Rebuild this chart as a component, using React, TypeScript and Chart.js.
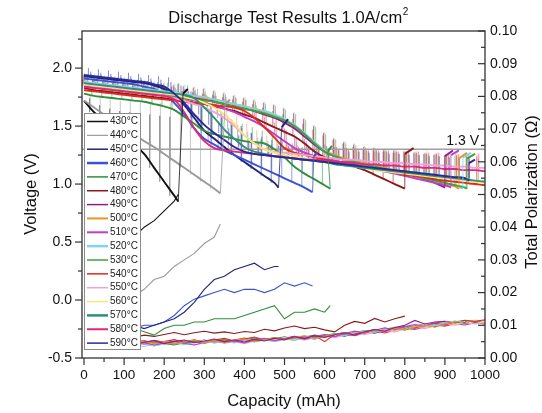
import React, { useEffect, useRef } from "react";
import { Chart, registerables } from "chart.js";
Chart.register(...registerables);

const FONT = '"Liberation Sans", Arial, Helvetica, sans-serif';

// Capacity grid (mAh)
const CAP = [0,25,50,75,100,125,150,175,200,225,250,275,300,325,350,375,400,425,450,475,500,525,550,575,600,625,650,675,700,725,750,775,800,825,850,875,900,925,950,975,1000];

const TEMPS = ["430°C","440°C","450°C","460°C","470°C","480°C","490°C","500°C","510°C","520°C","530°C","540°C","550°C","560°C","570°C","580°C","590°C"];
const COLORS = ["#111111","#9a9a9a","#23237a","#3a52d6","#2f8f3a","#8a1a1a","#8e1e8e","#f0921e","#c23ec8","#80d4f0","#3aa53a","#e02a1a","#f2a0d8","#f4e87a","#2e8f7c","#e0287a","#262a9a"];
const LEGEND_LW = [1.5,1.2,1.5,2.5,1.5,1.5,1.5,2,2,2.5,1.5,1.5,1.5,1.5,2.5,2,1.5];

// Loaded voltage (V) on CAP grid
const V_430 = [1.72,1.62,1.55,1.48,1.41,1.34,1.26,1.14,1.02,0.90];
const V_440 = [1.72,1.66,1.60,1.54,1.49,1.43,1.37,1.32,1.26,1.20,1.14,1.08,1.02,0.96];
const V_450 = [1.93,1.92,1.91,1.90,1.89,1.88,1.87,1.85,1.82,1.77,1.68,1.57,1.46,1.39,1.32,1.25,1.19,1.13,1.07,1.01];
const V_460 = [1.91,1.90,1.89,1.88,1.87,1.86,1.84,1.82,1.78,1.70,1.60,1.48,1.39,1.34,1.29,1.25,1.21,1.17,1.13,1.09,1.05,1.01,0.97];
const V_470 = [1.78,1.76,1.75,1.74,1.73,1.72,1.71,1.69,1.67,1.64,1.58,1.52,1.46,1.43,1.41,1.39,1.37,1.36,1.35,1.30,1.23,1.15,1.09,1.04,0.99];
const V_480 = [1.83,1.81,1.80,1.79,1.78,1.77,1.76,1.75,1.74,1.73,1.72,1.70,1.69,1.67,1.65,1.63,1.60,1.57,1.53,1.49,1.45,1.41,1.35,1.28,1.23,1.20,1.18,1.15,1.12,1.08,1.04,1.00];
const V_490 = [1.86,1.85,1.84,1.83,1.82,1.81,1.80,1.79,1.78,1.77,1.76,1.74,1.73,1.71,1.69,1.67,1.65,1.63,1.60,1.57,1.53,1.48,1.41,1.34,1.28,1.24,1.21,1.19,1.17,1.15,1.13,1.11,1.09,1.07,1.04,1.01];
const V_500 = [1.87,1.86,1.85,1.84,1.83,1.82,1.81,1.80,1.79,1.78,1.77,1.76,1.74,1.73,1.71,1.69,1.67,1.65,1.62,1.59,1.55,1.50,1.43,1.36,1.29,1.25,1.22,1.20,1.18,1.16,1.14,1.12,1.10,1.08,1.06,1.03,1.00,0.98];
const V_510 = [1.85,1.84,1.83,1.82,1.81,1.80,1.79,1.78,1.77,1.76,1.74,1.72,1.70,1.68,1.65,1.62,1.58,1.54,1.49,1.43,1.37,1.31,1.27,1.24,1.22,1.20,1.18,1.17,1.15,1.13,1.11,1.09,1.07,1.05,1.03,1.01,0.99];
const V_520 = [1.88,1.87,1.86,1.85,1.84,1.83,1.82,1.81,1.80,1.79,1.78,1.76,1.75,1.73,1.71,1.69,1.67,1.65,1.63,1.60,1.56,1.51,1.44,1.36,1.29,1.24,1.21,1.19,1.17,1.15,1.13,1.11,1.09,1.07,1.05,1.03,1.01,0.99];
const V_530 = [1.84,1.83,1.82,1.81,1.80,1.79,1.78,1.77,1.76,1.75,1.74,1.73,1.72,1.71,1.69,1.67,1.65,1.63,1.61,1.58,1.55,1.50,1.43,1.35,1.28,1.24,1.21,1.19,1.17,1.15,1.13,1.11,1.09,1.07,1.05,1.03,1.01,0.99,0.97];
const V_540 = [1.81,1.80,1.79,1.78,1.77,1.76,1.75,1.74,1.73,1.72,1.71,1.70,1.69,1.68,1.67,1.66,1.63,1.57,1.49,1.40,1.31,1.27,1.25,1.23,1.21,1.19,1.17,1.16,1.14,1.13,1.11,1.10,1.08,1.07,1.06,1.04,1.03,1.02,1.01,1.00];
const V_550 = [1.85,1.84,1.83,1.82,1.81,1.80,1.79,1.78,1.76,1.74,1.72,1.69,1.66,1.62,1.57,1.50,1.42,1.35,1.30,1.28,1.27,1.26,1.25,1.24,1.23,1.22,1.21,1.21,1.20,1.19,1.19,1.18,1.18,1.17,1.17,1.16,1.16,1.15,1.15,1.14];
const V_560 = [1.86,1.85,1.84,1.83,1.82,1.81,1.80,1.79,1.78,1.77,1.75,1.73,1.70,1.66,1.60,1.52,1.42,1.35,1.30,1.27,1.25,1.24,1.22,1.21,1.19,1.18,1.16,1.15,1.14,1.12,1.11,1.10,1.09,1.08,1.07,1.06,1.05,1.04,1.03,1.02];
const V_570 = [1.87,1.86,1.85,1.84,1.83,1.82,1.81,1.80,1.79,1.78,1.77,1.74,1.66,1.57,1.47,1.39,1.32,1.28,1.26,1.24,1.23,1.22,1.21,1.20,1.19,1.17,1.16,1.15,1.14,1.13,1.12,1.11,1.10,1.09,1.08,1.07,1.06,1.05,1.04,1.03];
const V_580 = [1.84,1.83,1.82,1.81,1.80,1.79,1.78,1.77,1.76,1.73,1.62,1.48,1.37,1.31,1.29,1.28,1.27,1.26,1.25,1.24,1.23,1.22,1.21,1.21,1.20,1.19,1.19,1.18,1.17,1.17,1.16,1.16,1.15,1.15,1.14,1.14,1.13,1.13,1.12,1.12];
const V_590 = [1.94,1.93,1.92,1.91,1.90,1.89,1.88,1.86,1.84,1.78,1.70,1.60,1.51,1.44,1.38,1.32,1.28,1.26,1.25,1.24,1.23,1.22,1.21,1.20,1.19,1.18,1.17,1.16,1.15,1.14,1.13,1.12,1.11,1.10,1.09,1.08,1.07,1.06,1.05];

// Pulse (interruption) top voltage on the same grid
const T_430 = [1.82,1.74,1.68,1.65,1.63,1.62,1.61,1.60,1.59,1.58];
const T_440 = [1.80,1.76,1.74,1.73,1.72,1.72,1.71,1.71,1.70,1.70,1.69,1.69,1.68,1.67];
const T_450 = [1.98,1.97,1.96,1.95,1.94,1.93,1.92,1.91,1.90,1.88,1.85,1.80,1.74,1.68,1.62,1.56,1.50,1.44,1.39,1.34];
const T_460 = [1.96,1.95,1.94,1.93,1.92,1.91,1.90,1.89,1.87,1.84,1.80,1.74,1.68,1.62,1.57,1.52,1.48,1.44,1.41,1.38,1.35,1.33,1.31];
const T_470 = [1.86,1.85,1.84,1.83,1.82,1.81,1.80,1.79,1.78,1.76,1.73,1.69,1.65,1.61,1.58,1.55,1.52,1.49,1.46,1.42,1.38,1.35,1.32,1.29,1.27];
const T_480 = [1.90,1.89,1.88,1.87,1.86,1.85,1.84,1.83,1.82,1.81,1.80,1.79,1.78,1.77,1.75,1.73,1.71,1.69,1.66,1.63,1.60,1.56,1.52,1.47,1.42,1.38,1.35,1.32,1.30,1.29,1.28,1.27];
const T_490 = [1.94,1.93,1.92,1.91,1.90,1.89,1.88,1.87,1.86,1.85,1.84,1.83,1.82,1.80,1.78,1.76,1.74,1.72,1.70,1.68,1.65,1.61,1.56,1.50,1.44,1.39,1.36,1.34,1.32,1.31,1.30,1.29,1.28,1.27,1.26,1.25];
const T_500 = [1.95,1.94,1.93,1.92,1.91,1.90,1.89,1.88,1.87,1.86,1.85,1.84,1.83,1.81,1.79,1.77,1.75,1.73,1.71,1.69,1.66,1.62,1.57,1.51,1.45,1.40,1.37,1.35,1.33,1.32,1.31,1.30,1.29,1.28,1.27,1.26,1.25,1.24];
const T_510 = [1.93,1.92,1.91,1.90,1.89,1.88,1.87,1.86,1.85,1.84,1.82,1.80,1.78,1.76,1.73,1.70,1.66,1.62,1.58,1.53,1.48,1.43,1.39,1.36,1.34,1.32,1.31,1.30,1.29,1.28,1.28,1.27,1.27,1.26,1.26,1.25,1.25];
const T_520 = [1.96,1.95,1.94,1.93,1.92,1.91,1.90,1.89,1.88,1.87,1.86,1.84,1.83,1.81,1.79,1.77,1.75,1.73,1.71,1.68,1.65,1.61,1.56,1.50,1.44,1.39,1.36,1.34,1.32,1.31,1.30,1.29,1.28,1.28,1.27,1.27,1.26,1.26];
const T_530 = [1.92,1.91,1.90,1.89,1.88,1.87,1.86,1.85,1.84,1.83,1.82,1.81,1.80,1.79,1.77,1.75,1.73,1.71,1.69,1.67,1.64,1.60,1.55,1.49,1.43,1.38,1.35,1.33,1.31,1.30,1.29,1.28,1.28,1.27,1.27,1.26,1.26,1.25,1.25];
const T_540 = [1.89,1.88,1.87,1.86,1.85,1.84,1.83,1.82,1.81,1.80,1.79,1.78,1.77,1.76,1.75,1.74,1.72,1.68,1.62,1.55,1.47,1.41,1.37,1.35,1.33,1.32,1.31,1.30,1.29,1.29,1.28,1.28,1.27,1.27,1.26,1.26,1.25,1.25,1.24,1.24];
const T_550 = [1.93,1.92,1.91,1.90,1.89,1.88,1.87,1.86,1.84,1.82,1.80,1.77,1.74,1.70,1.65,1.59,1.52,1.46,1.42,1.39,1.37,1.36,1.35,1.34,1.33,1.32,1.32,1.31,1.31,1.30,1.30,1.30,1.29,1.29,1.29,1.28,1.28,1.28,1.27,1.27];
const T_560 = [1.94,1.93,1.92,1.91,1.90,1.89,1.88,1.87,1.86,1.85,1.83,1.81,1.78,1.74,1.69,1.62,1.54,1.47,1.42,1.38,1.36,1.34,1.33,1.32,1.31,1.30,1.29,1.29,1.28,1.28,1.27,1.27,1.26,1.26,1.25,1.25,1.24,1.24,1.23,1.23];
const T_570 = [1.95,1.94,1.93,1.92,1.91,1.90,1.89,1.88,1.87,1.86,1.85,1.82,1.76,1.68,1.59,1.51,1.45,1.40,1.37,1.35,1.34,1.33,1.32,1.31,1.30,1.29,1.29,1.28,1.28,1.27,1.27,1.26,1.26,1.25,1.25,1.24,1.24,1.23,1.23,1.22];
const T_580 = [1.92,1.91,1.90,1.89,1.88,1.87,1.86,1.85,1.84,1.81,1.72,1.59,1.48,1.42,1.39,1.37,1.36,1.35,1.34,1.33,1.33,1.32,1.32,1.31,1.31,1.30,1.30,1.30,1.29,1.29,1.29,1.28,1.28,1.28,1.27,1.27,1.27,1.26,1.26,1.26];
const T_590 = [2.00,1.99,1.98,1.97,1.96,1.95,1.94,1.93,1.92,1.87,1.80,1.71,1.62,1.54,1.48,1.42,1.38,1.36,1.34,1.33,1.32,1.31,1.30,1.30,1.29,1.29,1.28,1.28,1.27,1.27,1.26,1.26,1.25,1.25,1.24,1.24,1.23,1.23,1.22];

// Total polarization (ohm) on grid, last value at end capacity
const P_430 = [0.030,0.031,0.032,0.033,0.035,0.037,0.040,0.042,0.045,0.048,0.050];
const P_440 = [0.012,0.013,0.014,0.015,0.017,0.019,0.021,0.024,0.025,0.028,0.030,0.032,0.035,0.037,0.041];
const P_450 = [0.010,0.010,0.009,0.010,0.009,0.010,0.009,0.010,0.011,0.012,0.014,0.017,0.021,0.024,0.025,0.027,0.028,0.029,0.027,0.028,0.028];
const P_460 = [0.010,0.009,0.010,0.009,0.010,0.009,0.010,0.010,0.011,0.013,0.016,0.018,0.019,0.020,0.021,0.020,0.021,0.021,0.020,0.021,0.023,0.022,0.023,0.022];
const P_470 = [0.009,0.009,0.010,0.009,0.010,0.009,0.008,0.007,0.009,0.010,0.010,0.011,0.011,0.012,0.012,0.012,0.013,0.014,0.015,0.016,0.012,0.014,0.014,0.015,0.014,0.016];
const P_480 = [0.0062,0.0058,0.0066,0.0060,0.0068,0.0063,0.0070,0.0066,0.0072,0.0078,0.0071,0.0077,0.0082,0.0076,0.0080,0.0075,0.0081,0.0078,0.0088,0.0083,0.0092,0.0098,0.0090,0.0094,0.0086,0.0080,0.0100,0.0112,0.0106,0.0121,0.0110,0.0120,0.0128];
const P_490 = [0.0050,0.0043,0.0051,0.0045,0.0049,0.0042,0.0048,0.0053,0.0044,0.0050,0.0055,0.0047,0.0052,0.0058,0.0050,0.0055,0.0049,0.0057,0.0052,0.0060,0.0056,0.0065,0.0060,0.0068,0.0063,0.0071,0.0077,0.0070,0.0080,0.0087,0.0082,0.0093,0.0100,0.0115,0.0104,0.0110,0.0112];
const P_500 = [0.0045,0.0050,0.0042,0.0048,0.0040,0.0046,0.0052,0.0044,0.0050,0.0043,0.0049,0.0055,0.0047,0.0053,0.0046,0.0054,0.0058,0.0050,0.0056,0.0062,0.0055,0.0063,0.0068,0.0060,0.0066,0.0072,0.0078,0.0070,0.0079,0.0085,0.0080,0.0090,0.0086,0.0095,0.0100,0.0094,0.0104,0.0110,0.0112];
const P_510 = [0.0040,0.0046,0.0038,0.0044,0.0050,0.0041,0.0047,0.0040,0.0046,0.0052,0.0045,0.0040,0.0048,0.0054,0.0047,0.0052,0.0046,0.0055,0.0060,0.0053,0.0058,0.0064,0.0057,0.0066,0.0072,0.0065,0.0075,0.0082,0.0076,0.0085,0.0092,0.0086,0.0096,0.0102,0.0098,0.0107,0.0112,0.0110];
const P_520 = [0.0036,0.0042,0.0035,0.0040,0.0046,0.0038,0.0044,0.0037,0.0043,0.0048,0.0041,0.0047,0.0052,0.0045,0.0051,0.0046,0.0053,0.0049,0.0055,0.0051,0.0058,0.0054,0.0062,0.0058,0.0066,0.0073,0.0068,0.0077,0.0083,0.0078,0.0087,0.0093,0.0088,0.0097,0.0103,0.0099,0.0108,0.0113,0.0110];
const P_530 = [0.0048,0.0042,0.0050,0.0045,0.0039,0.0047,0.0042,0.0049,0.0044,0.0040,0.0047,0.0053,0.0046,0.0051,0.0056,0.0049,0.0055,0.0050,0.0057,0.0062,0.0056,0.0061,0.0067,0.0062,0.0069,0.0075,0.0070,0.0078,0.0084,0.0079,0.0088,0.0094,0.0090,0.0098,0.0104,0.0100,0.0107,0.0112,0.0108,0.0114];
const P_540 = [0.0050,0.0044,0.0052,0.0046,0.0041,0.0048,0.0053,0.0045,0.0050,0.0056,0.0048,0.0053,0.0047,0.0055,0.0060,0.0052,0.0058,0.0064,0.0056,0.0062,0.0058,0.0066,0.0061,0.0069,0.0050,0.0072,0.0078,0.0073,0.0081,0.0087,0.0082,0.0091,0.0097,0.0092,0.0101,0.0106,0.0102,0.0110,0.0115,0.0112,0.0117];
const P_550 = [0.0038,0.0044,0.0036,0.0042,0.0048,0.0040,0.0035,0.0043,0.0049,0.0041,0.0047,0.0040,0.0046,0.0052,0.0045,0.0050,0.0044,0.0052,0.0057,0.0050,0.0056,0.0062,0.0055,0.0061,0.0067,0.0062,0.0070,0.0076,0.0071,0.0079,0.0085,0.0080,0.0089,0.0095,0.0090,0.0099,0.0104,0.0100,0.0108,0.0104,0.0109];
const P_560 = [0.0046,0.0040,0.0047,0.0053,0.0045,0.0051,0.0044,0.0050,0.0043,0.0049,0.0055,0.0048,0.0054,0.0049,0.0056,0.0051,0.0058,0.0053,0.0060,0.0055,0.0062,0.0057,0.0065,0.0060,0.0068,0.0074,0.0069,0.0077,0.0073,0.0082,0.0088,0.0083,0.0092,0.0098,0.0094,0.0103,0.0108,0.0103,0.0111,0.0116,0.0112];
const P_570 = [0.0042,0.0048,0.0041,0.0036,0.0044,0.0050,0.0043,0.0038,0.0045,0.0051,0.0044,0.0050,0.0045,0.0051,0.0057,0.0050,0.0055,0.0061,0.0054,0.0059,0.0065,0.0058,0.0064,0.0070,0.0064,0.0071,0.0077,0.0072,0.0080,0.0086,0.0081,0.0089,0.0095,0.0091,0.0099,0.0105,0.0100,0.0109,0.0114,0.0109,0.0115];
const P_580 = [0.0055,0.0049,0.0056,0.0050,0.0045,0.0052,0.0047,0.0054,0.0048,0.0043,0.0050,0.0056,0.0049,0.0054,0.0048,0.0055,0.0061,0.0054,0.0059,0.0053,0.0060,0.0066,0.0059,0.0065,0.0071,0.0065,0.0073,0.0068,0.0076,0.0082,0.0077,0.0085,0.0091,0.0087,0.0095,0.0101,0.0097,0.0105,0.0101,0.0108,0.0104];
const P_590 = [0.0044,0.0039,0.0046,0.0041,0.0047,0.0040,0.0046,0.0052,0.0044,0.0050,0.0043,0.0049,0.0055,0.0048,0.0054,0.0049,0.0056,0.0051,0.0058,0.0053,0.0060,0.0055,0.0063,0.0058,0.0066,0.0072,0.0067,0.0075,0.0081,0.0076,0.0085,0.0091,0.0086,0.0095,0.0101,0.0096,0.0105,0.0110,0.0106,0.0108];

// End of discharge and recovery after cut-off
const END_CAP = [235,340,485,570,614,800,900,935,915,945,955,1000,1000,1000,1000,1000,960];
const END_V = [0.85,0.92,0.97,0.93,0.96,0.96,0.97,0.96,0.97,0.96,0.96,0.99,1.14,1.01,1.02,1.11,1.03];
const REC_CAP1 = [247,352,493,573,608,800,900,935,915,945,955,null,null,null,null,null,960];
const REC_V1 = [1.78,1.69,1.49,1.24,1.28,1.26,1.24,1.22,1.25,1.23,1.22,null,null,null,null,null,1.18];
const REC_CAP2 = [259,364,509,582,618,822,920,955,935,965,975,null,null,null,null,null,975];
const REC_V2 = [1.82,1.73,1.56,1.27,1.33,1.31,1.29,1.27,1.29,1.27,1.26,null,null,null,null,null,1.21];

const REF_V = 1.3;
const X_TICKS = [0,100,200,300,400,500,600,700,800,900,1000];
const X_MINOR = [50,150,250,350,450,550,650,750,850,950];
const Y_TICKS = [-0.5,0,0.5,1.0,1.5,2.0];
const Y_MINOR = [-0.25,0.25,0.75,1.25,1.75,2.25];
const P_TICKS = [0,0.01,0.02,0.03,0.04,0.05,0.06,0.07,0.08,0.09,0.1];
const P_MINOR = [0.005,0.015,0.025,0.035,0.045,0.055,0.065,0.075,0.085,0.095];

const V_SERIES = [V_430,V_440,V_450,V_460,V_470,V_480,V_490,V_500,V_510,V_520,V_530,V_540,V_550,V_560,V_570,V_580,V_590];
const T_SERIES = [T_430,T_440,T_450,T_460,T_470,T_480,T_490,T_500,T_510,T_520,T_530,T_540,T_550,T_560,T_570,T_580,T_590];
const P_SERIES = [P_430,P_440,P_450,P_460,P_470,P_480,P_490,P_500,P_510,P_520,P_530,P_540,P_550,P_560,P_570,P_580,P_590];

// small horizontal offsets (mAh) so hatch lines of different series interleave
const PULSE_SHIFT = [-11,-9.6,-8.2,-6.8,-5.5,-4.1,-2.7,-1.4,0,1.4,2.7,4.1,5.5,6.8,8.2,9.6,11];

function rgba(hex: string, a: number) {
  const n = parseInt(hex.slice(1), 16);
  return `rgba(${(n >> 16) & 255},${(n >> 8) & 255},${n & 255},${a})`;
}

const decor = {
  id: "decor",
  afterDatasetsDraw(chart: any) {
    const { ctx, scales } = chart;
    const ys = scales.y;
    ctx.save();
    // legend
    const LX = 84, LY = 113, LW = 56, LH = 236, ROW0 = 121.5, STEP = 13.85;
    ctx.fillStyle = "#ffffff";
    ctx.fillRect(LX, LY, LW, LH);
    ctx.strokeStyle = "#8a8a8a";
    ctx.lineWidth = 1;
    ctx.strokeRect(LX + 0.5, LY + 0.5, LW, LH);
    ctx.font = `10px ${FONT}`;
    ctx.textBaseline = "middle";
    ctx.textAlign = "left";
    TEMPS.forEach((t, i) => {
      const yy = ROW0 + i * STEP;
      ctx.strokeStyle = COLORS[i];
      ctx.lineWidth = LEGEND_LW[i];
      ctx.beginPath();
      ctx.moveTo(87, yy);
      ctx.lineTo(108, yy);
      ctx.stroke();
      ctx.fillStyle = "#222";
      ctx.fillText(t, 110, yy);
    });
    // 1.3 V label
    ctx.fillStyle = "#111";
    ctx.font = `14px ${FONT}`;
    ctx.textAlign = "right";
    ctx.textBaseline = "alphabetic";
    ctx.fillText("1.3 V", 479, ys.getPixelForValue(REF_V) - 4);
    ctx.restore();
  },
  afterDraw(chart: any) {
    const { ctx, chartArea: a, scales } = chart;
    const xs = scales.x, ys = scales.y, y2 = scales.y2;
    ctx.save();
    ctx.strokeStyle = "#333";
    ctx.lineWidth = 1.3;
    ctx.strokeRect(a.left, a.top, a.right - a.left, a.bottom - a.top);
    ctx.lineWidth = 1.2;
    const line = (x1: number, y1: number, x2: number, y2_: number) => {
      ctx.beginPath(); ctx.moveTo(x1, y1); ctx.lineTo(x2, y2_); ctx.stroke();
    };
    X_TICKS.forEach(v => { const p = xs.getPixelForValue(v); line(p, a.bottom, p, a.bottom + 7); });
    X_MINOR.forEach(v => { const p = xs.getPixelForValue(v); line(p, a.bottom, p, a.bottom + 4); });
    Y_TICKS.forEach(v => { const p = ys.getPixelForValue(v); line(a.left, p, a.left - 7, p); });
    Y_MINOR.forEach(v => { const p = ys.getPixelForValue(v); line(a.left, p, a.left - 4, p); });
    P_TICKS.forEach(v => { const p = y2.getPixelForValue(v); line(a.right, p, a.right - 7, p); });
    P_MINOR.forEach(v => { const p = y2.getPixelForValue(v); line(a.right, p, a.right - 4, p); });

    // title with superscript
    ctx.fillStyle = "#111";
    ctx.textBaseline = "alphabetic";
    ctx.textAlign = "left";
    const main = "Discharge Test Results 1.0A/cm";
    ctx.font = `16.5px ${FONT}`;
    const w1 = ctx.measureText(main).width;
    ctx.font = `10px ${FONT}`;
    const w2 = ctx.measureText("2").width;
    const sx = 288 - (w1 + w2) / 2;
    ctx.font = `16.5px ${FONT}`;
    ctx.fillText(main, sx, 23);
    ctx.font = `10px ${FONT}`;
    ctx.fillText("2", sx + w1 + 0.5, 15);

    // axis titles
    ctx.font = `16.5px ${FONT}`;
    ctx.textAlign = "center";
    ctx.textBaseline = "middle";
    ctx.fillText("Capacity (mAh)", 284, 401);
    ctx.save();
    ctx.translate(31, 194);
    ctx.rotate(-Math.PI / 2);
    ctx.fillText("Voltage (V)", 0, 0);
    ctx.restore();
    ctx.save();
    ctx.translate(532, 192);
    ctx.rotate(-Math.PI / 2);
    ctx.fillText("Total Polarization (\u03A9)", 0, 0);
    ctx.restore();
    ctx.restore();
  },
};

export default function App() {
  const ref = useRef<HTMLCanvasElement | null>(null);
  useEffect(() => {
    if (!ref.current) return;
    const datasets: any[] = [];
    for (let s = 0; s < TEMPS.length; s++) {
      const V = V_SERIES[s], T = T_SERIES[s], P = P_SERIES[s];
      const col = COLORS[s];
      const pulse: any[] = [];
      const n = Math.min(V.length, T.length);
      for (let i = 0; i < n; i++) {
        const x = CAP[i] + PULSE_SHIFT[s];
        pulse.push({ x, y: V[i] }, { x, y: T[i] }, { x, y: null });
      }
      datasets.push({
        data: pulse, yAxisID: "y", borderColor: rgba(col, 0.7), borderWidth: 0.8,
        pointRadius: 0, spanGaps: false, tension: 0, order: 40,
      });
      const vl = V.map((v, i) => ({ x: CAP[i], y: v }));
      vl.push({ x: END_CAP[s], y: END_V[s] });
      datasets.push({
        data: vl, yAxisID: "y", borderColor: col, borderWidth: 1.9, pointRadius: 0,
        cubicInterpolationMode: "monotone", order: 20 - s,
      });
      const pl: any[] = [];
      for (let i = 0; i < V.length && i < P.length - 1; i++) pl.push({ x: CAP[i], y: P[i] });
      pl.push({ x: END_CAP[s], y: P[P.length - 1] });
      datasets.push({
        data: pl, yAxisID: "y2", borderColor: col, borderWidth: 1.1, pointRadius: 0,
        tension: 0, order: 30,
      });
      if (REC_CAP1[s] != null) {
        datasets.push({
          data: [
            { x: END_CAP[s], y: END_V[s] },
            { x: REC_CAP1[s], y: REC_V1[s] },
            { x: REC_CAP2[s], y: REC_V2[s] },
          ],
          yAxisID: "y", borderColor: col, borderWidth: 2, pointRadius: 0, tension: 0, order: 2,
          segment: { borderWidth: (c: any) => (c.p0DataIndex === 0 ? 0.8 : 2) },
        });
      }
    }
    datasets.push({
      data: [{ x: -5, y: REF_V }, { x: 1000, y: REF_V }],
      yAxisID: "y", borderColor: "#a0a0a0", borderWidth: 1.5, pointRadius: 0, order: 35,
    });

    const tickFont = { family: FONT, size: 14 };
    const chart = new Chart(ref.current, {
      type: "line",
      data: { datasets },
      options: {
        animation: false,
        responsive: false,
        devicePixelRatio: 1,
        events: [],
        layout: { padding: { top: 31, left: 0, right: 0, bottom: 0 } },
        plugins: { legend: { display: false }, tooltip: { enabled: false }, title: { display: false } },
        scales: {
          x: {
            type: "linear", min: -5, max: 1000,
            afterBuildTicks: (sc: any) => { sc.ticks = X_TICKS.map(v => ({ value: v })); },
            afterFit: (sc: any) => { sc.height = 55; },
            ticks: { font: { family: FONT, size: 13.5 }, color: "#111", padding: 9, maxRotation: 0, autoSkip: false, callback: (v: any) => String(v) },
            grid: { display: false, drawTicks: false },
            border: { display: false },
          },
          y: {
            type: "linear", position: "left", min: -0.5, max: 2.32,
            afterBuildTicks: (sc: any) => { sc.ticks = Y_TICKS.map(v => ({ value: v })); },
            afterFit: (sc: any) => { sc.width = 82; },
            ticks: { font: tickFont, color: "#111", padding: 10, autoSkip: false, callback: (v: any) => Number(v).toFixed(1) },
            grid: { display: false, drawTicks: false },
            border: { display: false },
          },
          y2: {
            type: "linear", position: "right", min: 0, max: 0.1,
            afterBuildTicks: (sc: any) => { sc.ticks = P_TICKS.map(v => ({ value: v })); },
            afterFit: (sc: any) => { sc.width = 57; },
            ticks: { font: tickFont, color: "#111", padding: 5, autoSkip: false, callback: (v: any) => Number(v).toFixed(2) },
            grid: { display: false, drawTicks: false },
            border: { display: false },
          },
        },
      },
      plugins: [decor],
    } as any);
    return () => chart.destroy();
  }, []);

  return (
    <div style={{ position: "absolute", left: 0, top: 0, width: 542, height: 413, background: "#fff" }}>
      <canvas ref={ref} width={542} height={413} style={{ display: "block" }} />
    </div>
  );
}
